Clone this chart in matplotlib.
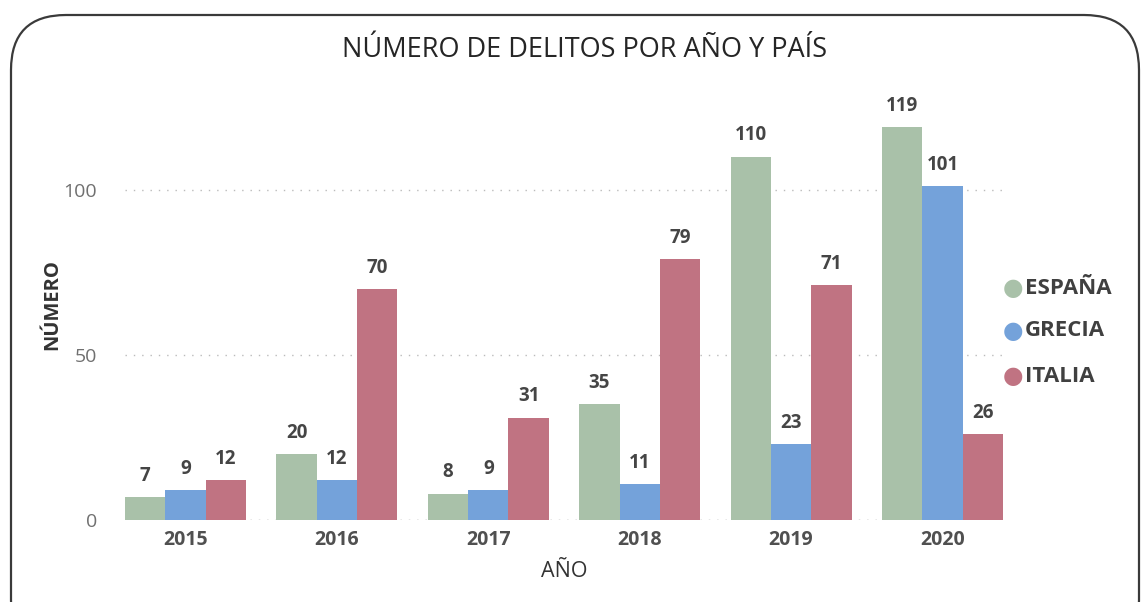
import matplotlib.pyplot as plt
from matplotlib.patches import FancyBboxPatch
import numpy as np

years = ["2015", "2016", "2017", "2018", "2019", "2020"]
espana = [7, 20, 8, 35, 110, 119]
grecia = [9, 12, 9, 11, 23, 101]
italia = [12, 70, 31, 79, 71, 26]
paises = ["ESPAÑA", "GRECIA", "ITALIA"]
colores = ["#A9C1A9", "#74A2DA", "#C07382"]

plt.rcParams['font.family'] = ['Open Sans', 'DejaVu Sans']

W, H = 1145, 602
fig = plt.figure(figsize=(W / 100, H / 100), dpi=100)

# background card, drawn in pixel units
bg = fig.add_axes([0, 0, 1, 1], zorder=-1)
bg.set_xlim(0, W)
bg.set_ylim(H, 0)
bg.axis("off")
bg.add_patch(FancyBboxPatch((11, 15), 1128, 640, boxstyle="round,pad=0,rounding_size=55",
                            facecolor="white", edgecolor="#3a3a3a", linewidth=1.6))

ax = fig.add_axes([125 / W, 82 / H, 878 / W, 413 / H])
ax.set_facecolor("none")

x = np.arange(len(years))
w = 0.8 / 3
for i, (vals, c) in enumerate(zip([espana, grecia, italia], colores)):
    bars = ax.bar(x + (i - 1) * w, vals, w, color=c, zorder=3)
    for b, v in zip(bars, vals):
        ax.annotate(str(v), (b.get_x() + b.get_width() / 2, v), xytext=(0, 8),
                    textcoords="offset points", ha="center", va="bottom",
                    fontsize=13.5, fontweight="bold", color="#454545")

ax.set_xlim(-0.4, len(years) - 0.6)
ax.set_ylim(0, 125)
ax.set_yticks([0, 50, 100])
ax.set_xticks(x)
ax.set_xticklabels(years, fontsize=14, fontweight="bold", color="#505050")
ax.tick_params(axis="y", labelsize=14, labelcolor="#707070", length=0, pad=20)
ax.tick_params(axis="x", length=0, pad=7)
for s in ax.spines.values():
    s.set_visible(False)
ax.grid(axis="y", linestyle=(0, (1, 5)), color="#bbbbbb", linewidth=1, zorder=0)
ax.axhline(0, linestyle=(0, (1, 5)), color="#bbbbbb", linewidth=1, zorder=0)

ax.set_xlabel("AÑO", fontsize=15.5, color="#333333", labelpad=8)

fig.text(52 / W, 1 - 305 / H, "NÚMERO", rotation=90, ha="center", va="center",
         fontsize=14.5, fontweight="bold", color="#333333")

fig.text(585 / W, 1 - 50 / H, "NÚMERO DE DELITOS POR AÑO Y PAÍS",
         ha="center", va="center", fontsize=19.5, color="#252525")

# legend
for j, (p, c) in enumerate(zip(paises, colores)):
    yy = 1 - [288, 331, 376][j] / H
    fig.text(1013 / W, yy, "●", ha="center", va="center", fontsize=17,
             color=c, family=["DejaVu Sans"])
    fig.text(1025 / W, yy, p, ha="left", va="center", fontsize=16,
             fontweight="bold", color="#404040")

fig.savefig("out.png", dpi=100)
